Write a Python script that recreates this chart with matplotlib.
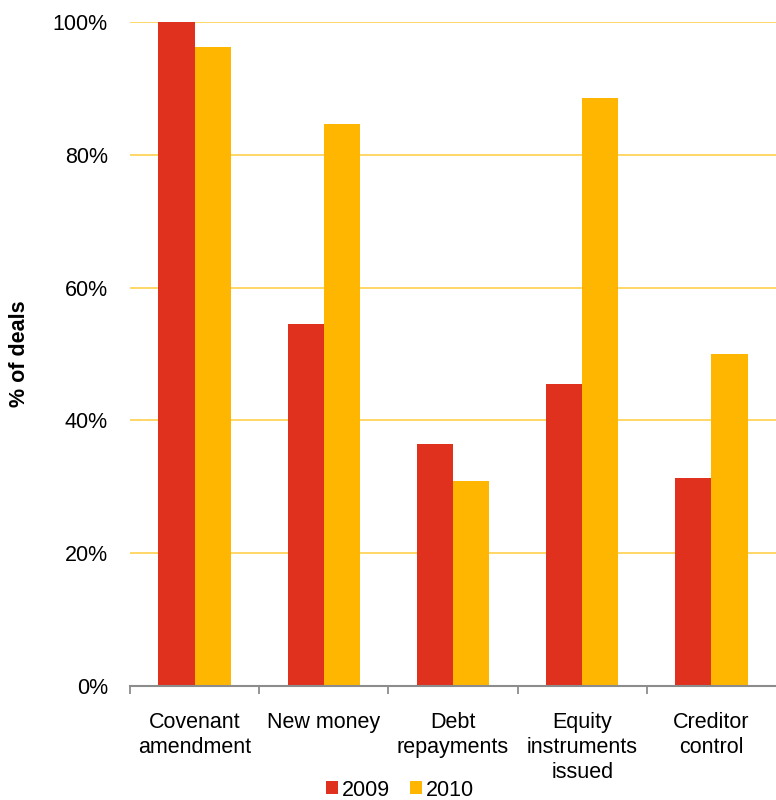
import matplotlib
matplotlib.use("Agg")
import matplotlib.pyplot as plt
import numpy as np
from matplotlib.patches import Patch

categories = ["Covenant\namendment", "New money", "Debt\nrepayments", "Equity\ninstruments\nissued", "Creditor\ncontrol"]
series_names = ["2009", "2010"]
values_2009 = [100.0, 54.5, 36.4, 45.5, 31.3]
values_2010 = [96.2, 84.6, 30.8, 88.5, 50.0]
yticks = [0, 20, 40, 60, 80, 100]
ytick_labels = ["0%", "20%", "40%", "60%", "80%", "100%"]

red = "#E0301E"
gold = "#FFB600"
grid_c = "#FFD35C"
axis_c = "#8C8C8C"

plt.rcParams['font.family'] = ['Liberation Sans', 'DejaVu Sans']
fs = 15.5

fig = plt.figure(figsize=(7.76, 8.0), dpi=100)
ax = fig.add_axes([130/776, 1-686/800, 1-130/776, (686-22)/800])

x = np.arange(len(categories))
w = 0.28
ax.bar(x - w/2, values_2009, width=w, color=red, zorder=3, label=series_names[0])
ax.bar(x + w/2, values_2010, width=w, color=gold, zorder=3, label=series_names[1])

ax.set_xlim(-0.5, len(categories) - 0.5)
ax.set_ylim(0, 100)
ax.set_yticks(yticks)
ax.set_yticklabels(ytick_labels, fontsize=fs)
ax.yaxis.grid(True, color=grid_c, linewidth=1.3, zorder=0)
ax.set_axisbelow(True)
ax.tick_params(axis='y', length=0, pad=16)

# category labels
ax.set_xticks(x)
ax.set_xticklabels(categories, fontsize=fs, linespacing=1.25, va='top')
ax.tick_params(axis='x', length=0, pad=19)
# boundary tick marks
ax.set_xticks(np.arange(-0.5, len(categories) - 0.5, 1.0), minor=True)
ax.tick_params(axis='x', which='minor', length=6, color=axis_c, width=1.3, direction='out')

for s in ['top', 'right', 'left']:
    ax.spines[s].set_visible(False)
ax.spines['bottom'].set_color(axis_c)
ax.spines['bottom'].set_linewidth(1.5)
ax.spines['bottom'].set_zorder(4)

fig.text(20/776, 1-354/800, "% of deals", rotation=90, fontsize=fs, fontweight='bold',
         ha='center', va='center')

handles = [Patch(facecolor=red, label=series_names[0]), Patch(facecolor=gold, label=series_names[1])]
fig.legend(handles=handles, loc='center', bbox_to_anchor=(400/776, 1-790/800), ncol=2,
           frameon=False, fontsize=fs, handlelength=0.55, handleheight=0.55,
           handletextpad=0.2, columnspacing=0.9, borderpad=0)

fig.savefig("out.png", dpi=100)
